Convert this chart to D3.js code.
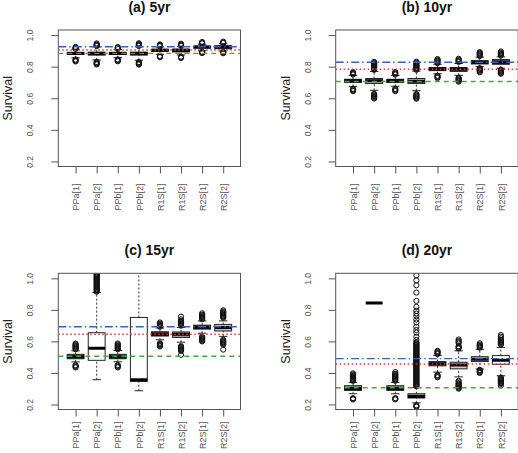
<!DOCTYPE html>
<html><head><meta charset="utf-8">
<script src="https://cdn.jsdelivr.net/npm/d3@7"></script>
<style>body{margin:0;background:#fff}svg{display:block}text{font-family:"Liberation Sans",Arial,sans-serif}</style>
</head><body><svg id="c" width="518" height="453"></svg>
<script>
// ---------- data ----------
const categories = ["PPa[1]","PPa[2]","PPb[1]","PPb[2]","R1S[1]","R1S[2]","R2S[1]","R2S[2]"];
const panelTitles = ["(a) 5yr","(b) 10yr","(c) 15yr","(d) 20yr"];
const yTicks = [0.2,0.4,0.6,0.8,1.0];
const yLabel = "Survival";
// reference lines per panel
const refBlue  = [0.926, 0.828, 0.693, 0.491];
const refRed   = [0.905, 0.784, 0.645, 0.457];
const refGreen = [0.884, 0.706, 0.506, 0.306];

// box stats: [lowWhisker, q1, median, q3, highWhisker]
const stats5yr = [
  [0.856,0.877,0.884,0.891,0.910],[0.842,0.873,0.883,0.892,0.925],[0.857,0.877,0.884,0.891,0.909],[0.841,0.873,0.883,0.892,0.926],
  [0.878,0.897,0.904,0.910,0.925],[0.874,0.893,0.903,0.912,0.928],[0.900,0.917,0.924,0.930,0.942],[0.898,0.913,0.924,0.932,0.945]];
const stats10yr = [
  [0.675,0.700,0.710,0.720,0.745],[0.650,0.693,0.710,0.725,0.770],[0.676,0.700,0.710,0.720,0.744],[0.648,0.693,0.708,0.725,0.772],
  [0.755,0.775,0.785,0.795,0.815],[0.745,0.770,0.785,0.795,0.820],[0.800,0.817,0.828,0.838,0.860],[0.790,0.815,0.828,0.845,0.862]];
const stats15yr = [
  [0.470,0.490,0.503,0.518,0.540],[0.357,0.480,0.556,0.655,0.910],[0.471,0.490,0.503,0.518,0.542],[0.287,0.346,0.357,0.752,1.040],
  [0.610,0.634,0.645,0.661,0.685],[0.595,0.625,0.645,0.660,0.688],[0.652,0.678,0.690,0.703,0.730],[0.632,0.666,0.688,0.708,0.730]];
const stats20yr = [
  [0.268,0.289,0.302,0.319,0.340],[0.844,0.844,0.844,0.844,0.844],[0.268,0.289,0.302,0.319,0.340],[0.210,0.241,0.250,0.268,0.308],
  [0.405,0.445,0.458,0.472,0.510],[0.375,0.426,0.450,0.468,0.540],[0.425,0.472,0.487,0.503,0.550],[0.382,0.455,0.480,0.510,0.562]];

// outliers per category
const out5yr = [
  [0.833,0.837,0.841,0.845,0.913,0.917,0.921,0.925],
  [0.814,0.818,0.822,0.826,0.830,0.930,0.934,0.938,0.942,0.947],
  [0.834,0.838,0.842,0.846,0.912,0.916,0.920,0.924],
  [0.813,0.817,0.821,0.825,0.829,0.931,0.935,0.939,0.943,0.948],
  [0.860,0.864,0.868,0.929,0.933,0.937,0.941],
  [0.855,0.859,0.863,0.932,0.936,0.940,0.945],
  [0.886,0.890,0.894,0.947,0.951,0.956],
  [0.885,0.889,0.893,0.949,0.953,0.958]];
const out10yr = [
  [0.645,0.650,0.655,0.660,0.750,0.755,0.760,0.765],
  [0.598,0.603,0.608,0.613,0.618,0.623,0.628,0.780,0.785,0.790,0.795,0.800,0.805,0.810,0.815,0.820,0.825,0.830],
  [0.645,0.650,0.655,0.660,0.750,0.755,0.760,0.766],
  [0.597,0.602,0.607,0.612,0.617,0.622,0.627,0.780,0.785,0.790,0.795,0.800,0.805,0.810,0.815,0.820,0.825,0.831],
  [0.728,0.733,0.738,0.743,0.822,0.827,0.832,0.837,0.842,0.848],
  [0.705,0.710,0.715,0.720,0.725,0.730,0.830,0.835,0.840,0.845,0.850],
  [0.765,0.770,0.775,0.780,0.785,0.790,0.867,0.872,0.877,0.882,0.887,0.892],
  [0.755,0.760,0.765,0.770,0.775,0.780,0.870,0.875,0.880,0.885,0.890,0.896]];
const out15yr = [
  [0.435,0.440,0.445,0.450,0.550,0.555,0.560,0.565,0.570,0.575,0.580,0.586],
  [0.915,0.920,0.925,0.930,0.935,0.940,0.945,0.950,0.955,0.960,0.965,0.970,0.975,0.980,0.985,0.990,0.995,1.000,1.005,1.010,1.015,1.020,1.025,1.030],
  [0.435,0.440,0.445,0.450,0.550,0.555,0.560,0.565,0.570,0.575,0.580,0.587],
  [],
  [0.568,0.573,0.578,0.583,0.588,0.693,0.698,0.703,0.708,0.713,0.720],
  [0.515,0.540,0.545,0.550,0.555,0.560,0.565,0.570,0.700,0.705,0.710,0.715,0.720,0.725,0.730,0.740,0.757],
  [0.600,0.605,0.610,0.615,0.620,0.625,0.630,0.740,0.745,0.750,0.755,0.760,0.765,0.770,0.778],
  [0.548,0.580,0.585,0.590,0.595,0.600,0.605,0.610,0.750,0.755,0.760,0.765,0.770,0.775,0.780,0.785,0.790,0.797]];
const out20yr = [
  [0.232,0.236,0.240,0.350,0.355,0.360,0.365,0.370,0.375,0.380,0.385,0.390,0.397],
  [],
  [0.232,0.236,0.240,0.350,0.355,0.360,0.365,0.370,0.375,0.380,0.385,0.390,0.395,0.405],
  [0.185,0.190,0.195,0.315,0.320,0.325,0.330,0.335,0.340,0.345,0.350,0.355,0.360,0.365,0.370,0.375,0.380,0.385,0.390,0.395,0.400,0.405,0.410,0.415,0.420,0.425,0.430,0.435,0.440,0.445,0.450,0.455,0.460,0.465,0.470,0.475,0.480,0.485,0.490,0.495,0.500,0.505,0.510,0.515,0.520,0.525,0.530,0.535,0.540,0.545,0.550,0.555,0.560,0.565,0.570,0.575,0.580,0.585,0.590,0.595,0.609,0.630,0.655,0.672,0.693,0.720,0.739,0.760,0.777,0.794,0.819,0.857,0.910,0.956,0.987,1.019],
  [0.372,0.377,0.382,0.387,0.520,0.525,0.530,0.535,0.540],
  [0.300,0.305,0.310,0.315,0.320,0.325,0.330,0.335,0.345,0.350,0.555,0.560,0.565,0.570,0.590,0.596,0.603,0.612],
  [0.400,0.405,0.410,0.415,0.420,0.560,0.565,0.570,0.575,0.580,0.588],
  [0.320,0.330,0.335,0.340,0.345,0.350,0.355,0.360,0.365,0.370,0.580,0.585,0.590,0.595,0.600,0.605,0.610,0.620,0.630,0.640]];

// ---------- styles ----------
const fills = [
  ["#4f7f4f","#5a8a5a","#4f7f4f","#5a8a5a","#3f3f3f","#4a4a4a","#3c4f72","#44587a"],
  ["#4c7c4c","#c8c8c8","#4c7c4c","#d0d0d0","#5a3838","#6a4848","#3c5a8c","#4a5f80"],
  ["#4e7e4e","#ffffff","#4e7e4e","#ffffff","#6e3c3c","#a8a0a0","#4a6a9a","#b8bcc4"],
  ["#7a9a7a","#ffffff","#7a9a7a","#a0a0a0","#9a8a8a","#d8c8c8","#e4e4ec","#ffffff"]];
const panels = [
  {l:58.3, r:240.5, t:30, b:166.5, lg:17},
  {l:335.7, r:518.2, t:30, b:166.5, lg:17},
  {l:58.3, r:240.5, t:273.3, b:409.5, lg:12},
  {l:335.7, r:518.2, t:273.3, b:409.5, lg:12}];
const allStats = [stats5yr, stats10yr, stats15yr, stats20yr];
const allOut = [out5yr, out10yr, out15yr, out20yr];

const svg = d3.select("#c");
const defs = svg.append("defs");

panels.forEach((p, pi) => {
  const x = d3.scaleLinear().domain([0.18, 8.82]).range([p.l, p.r]);
  const y = d3.scaleLinear().domain([0.168, 1.032]).range([p.b, p.t]);
  const g = svg.append("g");
  defs.append("clipPath").attr("id","clip"+pi).append("rect")
    .attr("x",p.l).attr("y",p.t).attr("width",p.r-p.l).attr("height",p.b-p.t);
  const pg = g.append("g").attr("clip-path","url(#clip"+pi+")");
  const bw = (x(1)-x(0))*0.8;
  const st = allStats[pi], outs = allOut[pi];
  categories.forEach((c, i) => {
    const cx = x(i+1);
    const s = st[i];
    pg.append("line").attr("x1",cx).attr("x2",cx).attr("y1",y(s[0])).attr("y2",y(s[1]))
      .attr("stroke","#333").attr("stroke-width",1).attr("stroke-dasharray","2,2");
    pg.append("line").attr("x1",cx).attr("x2",cx).attr("y1",y(s[3])).attr("y2",y(s[4]))
      .attr("stroke","#333").attr("stroke-width",1).attr("stroke-dasharray","2,2");
    [s[0], s[4]].forEach(v => pg.append("line").attr("x1",cx-bw/4).attr("x2",cx+bw/4)
      .attr("y1",y(v)).attr("y2",y(v)).attr("stroke","#222").attr("stroke-width",1));
    pg.append("rect").attr("x",cx-bw/2).attr("width",bw)
      .attr("y",y(s[3])).attr("height",Math.max(0,y(s[1])-y(s[3])))
      .attr("fill",fills[pi][i]).attr("stroke","#222").attr("stroke-width",1);
    pg.append("line").attr("x1",cx-bw/2).attr("x2",cx+bw/2).attr("y1",y(s[2])).attr("y2",y(s[2]))
      .attr("stroke","#000").attr("stroke-width",3);
    pg.selectAll(null).data(outs[i]).enter().append("circle")
      .attr("cx",cx).attr("cy",d=>y(d)).attr("r",2.6)
      .attr("fill","none").attr("stroke","#111").attr("stroke-width",1);
  });
  // reference lines
  pg.append("line").attr("x1",p.l).attr("x2",p.r).attr("y1",y(refGreen[pi])).attr("y2",y(refGreen[pi]))
    .attr("stroke","#3caa3c").attr("stroke-width",1.4).attr("stroke-dasharray","5,4");
  pg.append("line").attr("x1",p.l).attr("x2",p.r).attr("y1",y(refRed[pi])).attr("y2",y(refRed[pi]))
    .attr("stroke","#e03a3a").attr("stroke-width",1.4).attr("stroke-dasharray","1.5,2.5");
  pg.append("line").attr("x1",p.l).attr("x2",p.r).attr("y1",y(refBlue[pi])).attr("y2",y(refBlue[pi]))
    .attr("stroke","#3a62b0").attr("stroke-width",1.4).attr("stroke-dasharray","8,3,1.5,3");
  // frame
  g.append("rect").attr("x",p.l).attr("y",p.t).attr("width",p.r-p.l).attr("height",p.b-p.t)
    .attr("fill","none").attr("stroke","#555").attr("stroke-width",1);
  // y axis
  const ya = g.append("g").attr("transform",`translate(${p.l},0)`)
    .call(d3.axisLeft(y).tickValues(yTicks).tickFormat(d3.format(".1f")).tickSize(7));
  ya.select(".domain").remove();
  ya.selectAll("line").attr("stroke","#555");
  ya.selectAll("text").attr("fill","#555").style("font-size","8.5px")
    .attr("text-anchor","middle").attr("transform","rotate(-90)")
    .attr("x",0).attr("y",-25).attr("dy",0);
  // x axis
  const xa = g.append("g").attr("transform",`translate(0,${p.b})`)
    .call(d3.axisBottom(x).tickValues(d3.range(1,9)).tickFormat((d)=>categories[d-1]).tickSize(7));
  xa.select(".domain").remove();
  xa.selectAll("line").attr("stroke","#555");
  xa.selectAll("text").attr("fill","#555").style("font-size","9px")
    .attr("text-anchor","end").attr("transform","rotate(-90)")
    .attr("x",-p.lg).attr("y",0).attr("dy","0.35em");
  // y label
  svg.append("text").attr("transform",`translate(${p.l-46},${(p.t+p.b)/2}) rotate(-90)`)
    .attr("text-anchor","middle").style("font-size","12.5px").attr("fill","#222").text(yLabel);
  // title
  svg.append("text").attr("x",(p.l+p.r)/2).attr("y",p.t-18).attr("text-anchor","middle")
    .style("font-size","14px").style("font-weight","bold").attr("fill","#111").text(panelTitles[pi]);
});
</script></body></html>
